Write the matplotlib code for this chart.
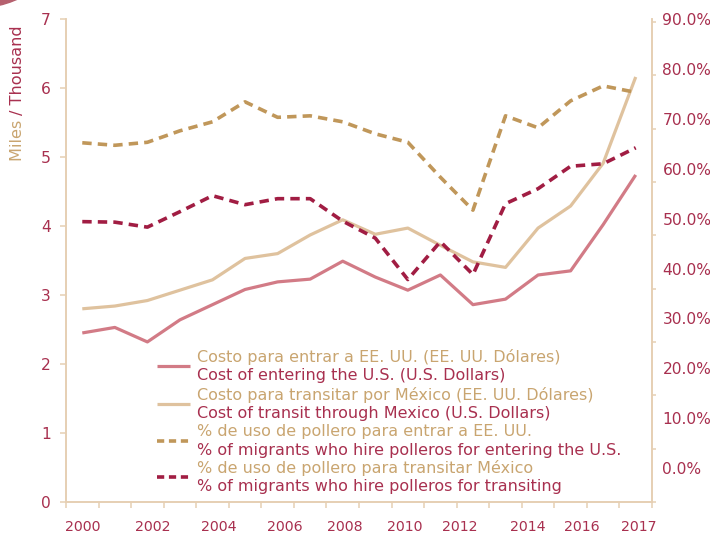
import matplotlib
matplotlib.use("Agg")
import matplotlib.pyplot as plt
from matplotlib.patches import Circle
import numpy as np

# ---------------- data ----------------
years = [2000, 2001, 2002, 2003, 2004, 2005, 2006, 2007, 2008,
         2009, 2010, 2011, 2012, 2013, 2014, 2015, 2016, 2017]

# thousand US dollars (left axis)
cost_enter_us = [2.45, 2.53, 2.32, 2.64, 2.86, 3.08, 3.19, 3.23, 3.49,
                 3.26, 3.07, 3.29, 2.86, 2.94, 3.29, 3.35, 4.02, 4.74]
cost_transit_mx = [2.80, 2.84, 2.92, 3.07, 3.22, 3.53, 3.60, 3.87, 4.09,
                   3.88, 3.97, 3.72, 3.48, 3.40, 3.97, 4.29, 4.91, 6.16]

# percent (right axis)
pct_enter_us = [65.2, 64.7, 65.3, 67.6, 69.4, 73.4, 70.3, 70.6, 69.4,
                67.0, 65.3, 58.3, 51.7, 70.6, 68.2, 73.6, 76.6, 75.3]
pct_transit_mx = [49.4, 49.3, 48.3, 51.4, 54.6, 52.8, 54.0, 54.0, 49.5,
                  46.1, 37.8, 45.4, 38.8, 53.0, 56.0, 60.5, 61.0, 64.2]

xtick_labels = ["2000", "2002", "2004", "2006", "2008", "2010",
                "2012", "2014", "2016", "2017"]
xtick_label_pos = [0.02, 2.17, 4.18, 6.21, 8.07, 9.91, 11.58, 13.69, 15.35, 17.10]

left_ticks = [0, 1, 2, 3, 4, 5, 6, 7]
right_ticks = [0, 10, 20, 30, 40, 50, 60, 70, 80, 90]

legend_es = ["Costo para entrar a EE. UU. (EE. UU. Dólares)",
             "Costo para transitar por México (EE. UU. Dólares)",
             "% de uso de pollero para entrar a EE. UU.",
             "% de uso de pollero para transitar México"]
legend_en = ["Cost of entering the U.S. (U.S. Dollars)",
             "Cost of transit through Mexico (U.S. Dollars)",
             "% of migrants who hire polleros for entering the U.S.",
             "% of migrants who hire polleros for transiting"]

# ---------------- style ----------------
C_PINK = "#d27b86"
C_TAN = "#dfc29e"
C_GOLD = "#c0975a"
C_DRED = "#a11d43"
C_TEXT = "#a8304f"
C_TEXT_ES = "#c9a570"
C_SPINE = "#e6cfb3"
FS = 10.2
FS_LEG = 11.5

plt.rcParams["font.family"] = ["DejaVu Sans"]

fig = plt.figure(figsize=(7.10, 5.35), dpi=100)
ax = fig.add_axes([66 / 710, 1 - 502 / 535, 586 / 710, 483 / 535])
ax2 = ax.twinx()

x = np.arange(len(years))

l1, = ax.plot(x, cost_enter_us, color=C_PINK, lw=2.3, solid_capstyle="butt")
l2, = ax.plot(x, cost_transit_mx, color=C_TAN, lw=2.3, solid_capstyle="butt")
l3, = ax2.plot(x, pct_enter_us, color=C_GOLD, lw=2.6, dashes=(2.6, 1.7),
               dash_capstyle="butt")
l4, = ax2.plot(x, pct_transit_mx, color=C_DRED, lw=2.6, dashes=(2.6, 1.7),
               dash_capstyle="butt")

# axes limits
ax.set_xlim(-0.5, len(years) - 0.5)
ax.set_ylim(0, 7)
r_lo = -34 / 5.022
r_hi = 90 - 3 / 5.022
ax2.set_ylim(r_lo, r_hi)

# spines
for a in (ax, ax2):
    a.spines["top"].set_visible(False)
    for s in ("left", "right", "bottom"):
        a.spines[s].set_color(C_SPINE)
        a.spines[s].set_linewidth(1.2)
    a.set_facecolor("none")

# x ticks: marks at category boundaries, labels at given positions
ax.set_xticks(np.arange(-0.5, len(years), 1.0), minor=True)
ax.set_xticks(xtick_label_pos)
ax.set_xticklabels(xtick_labels)
ax.tick_params(axis="x", which="major", length=0, pad=13, labelsize=FS,
               labelcolor=C_TEXT)
ax.tick_params(axis="x", which="minor", length=4, width=1.1, color=C_SPINE)

# left y
ax.set_yticks(left_ticks)
ax.set_yticklabels([str(t) for t in left_ticks])
ax.tick_params(axis="y", which="major", length=4, width=1.1, color=C_SPINE,
               pad=7, labelsize=FS + 1, labelcolor=C_TEXT)

# right y: labels and marks
ax2.set_yticks(right_ticks)
ax2.set_yticklabels([f"{t:.1f}%" for t in right_ticks])
ax2.set_yticks(np.linspace(r_lo, r_hi, 10), minor=True)
ax2.tick_params(axis="y", which="major", length=0, pad=7.5, labelsize=FS + 1,
                labelcolor=C_TEXT)
ax2.tick_params(axis="y", which="minor", length=3, width=1.1, color=C_SPINE)

# y label with two colours
t1 = fig.text(18 / 710, 1 - 161 / 535, "Miles ", rotation=90, color=C_TEXT_ES,
              fontsize=11.6, ha="center", va="bottom")
fig.canvas.draw()
ax.annotate("/ Thousand", xy=(0.5, 1.0), xycoords=t1, rotation=90,
            color=C_TEXT, fontsize=11.6, ha="center", va="bottom",
            annotation_clip=False)

# manual legend
lines = [l1, l2, l3, l4]
hx0, hx1, tx = 0.155, 0.212, 0.2235
hy = [0.2816, 0.2029, 0.1263, 0.0519]
dy = 0.0195
for ln, es, en, yy in zip(lines, legend_es, legend_en, hy):
    kw = dict(color=ln.get_color(), lw=ln.get_linewidth(), transform=ax.transAxes,
              solid_capstyle="butt", dash_capstyle="butt", clip_on=False)
    if ln.get_linestyle() != "-":
        kw["dashes"] = (2.0, 1.3)
    ax.plot([hx0, hx1], [yy, yy], **kw)
    ax.text(tx, yy + dy, es, transform=ax.transAxes, color=C_TEXT_ES,
            fontsize=FS_LEG, va="center", ha="left")
    ax.text(tx, yy - dy, en, transform=ax.transAxes, color=C_TEXT,
            fontsize=FS_LEG, va="center", ha="left")

# decorative corner
fig.patches.append(Circle((-0.035, 1.10), 0.115, transform=fig.transFigure,
                          color="#b5606e", zorder=0))

fig.savefig("out.png", dpi=100)
